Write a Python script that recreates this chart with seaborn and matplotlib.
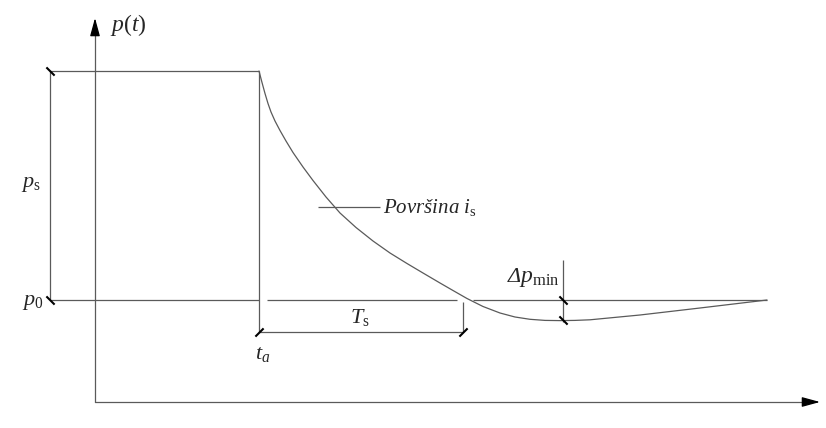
import pandas as pd
import matplotlib.pyplot as plt
import seaborn as sns
from matplotlib.markers import MarkerStyle
from matplotlib.transforms import Affine2D

# curve of the pressure p(t) after arrival time
curve_t = [16.4, 16.7, 17.0, 17.3, 17.6, 18.0, 18.5, 19.1, 19.8, 20.8, 21.8,
           23.1, 24.5, 26.1, 27.8, 29.5, 31.2, 32.8, 34.5, 35.8, 37.2, 38.8,
           40.5, 42.0, 43.5, 45.0, 46.5, 48.0, 49.5, 54.5, 60.5, 67.2]
curve_p = [33.1, 31.95, 30.85, 29.85, 29.0, 28.1, 27.15, 26.1, 24.95, 23.5,
           22.15, 20.5, 18.9, 17.45, 16.1, 14.9, 13.85, 12.9, 11.9, 11.15,
           10.35, 9.55, 8.9, 8.5, 8.27, 8.16, 8.14, 8.16, 8.22, 8.7, 9.4, 10.2]

# characteristic levels / times
p_s = 33.1
p_0 = 10.2
p_min = 8.2
t_a = 16.4
t_Ts = 36.8
t_dp = 46.8
t_end = 67.2
t_dim = -4.5      # left dimension line for p_s
p_dimTs = 7.0     # dimension line for T_s
t_max = 72.5
p_max = 38.4

sns.set_style("white")
plt.rcParams["mathtext.fontset"] = "custom"
plt.rcParams["mathtext.rm"] = "Liberation Serif"
plt.rcParams["mathtext.it"] = "Liberation Serif:italic"
plt.rcParams["font.family"] = ["Liberation Serif", "DejaVu Sans"]

fig = plt.figure(figsize=(8.26, 4.28), dpi=100)
ax = fig.add_axes([0, 0, 1, 1])
ax.set_xlim(-9.5, 73.1)
ax.set_ylim(-2.6, 40.2)
ax.axis("off")

gray = "#5a5a5a"
lw = 0.9

# axes (gray lines, black arrow heads)
ax.plot([0, t_max - 1.0], [0, 0], color=gray, lw=lw)
ax.plot([0, 0], [0, p_max - 1.0], color=gray, lw=lw)
head = dict(arrowstyle="-|>,head_length=1.1,head_width=0.3",
            color="black", lw=lw, shrinkA=0, shrinkB=0)
ax.annotate("", xy=(t_max, 0), xytext=(t_max - 1.4, 0), arrowprops=head)
ax.annotate("", xy=(0, p_max), xytext=(0, p_max - 1.4), arrowprops=head)

# plateau p_s and dimension lines
ax.hlines(p_s, t_dim, t_a, color=gray, lw=lw)
ax.vlines(t_dim, p_0, p_s, color=gray, lw=lw)
ax.vlines(t_a, p_dimTs, p_s, color=gray, lw=lw)
ax.hlines(p_0, t_dim, t_a, color=gray, lw=lw)
ax.hlines(p_0, t_a + 0.8, t_Ts - 0.6, color=gray, lw=lw)
ax.hlines(p_0, t_Ts + 1.0, t_end, color=gray, lw=lw)
ax.hlines(p_dimTs, t_a, t_Ts, color=gray, lw=lw)
ax.vlines(t_Ts, p_dimTs, p_0 - 0.2, color=gray, lw=lw)
ax.vlines(t_dp, p_min - 0.2, 14.2, color=gray, lw=lw)

# pressure curve
df = pd.DataFrame({"t": curve_t, "p": curve_p})
sns.lineplot(data=df, x="t", y="p", sort=False, color=gray, lw=lw, ax=ax)

# leader for the area label
ax.hlines(19.5, 22.3, 28.5, color=gray, lw=lw)

# dimension slashes
back = MarkerStyle("|", transform=Affine2D().rotate_deg(45))
fwd = MarkerStyle("|", transform=Affine2D().rotate_deg(-45))
ax.scatter([t_dim, t_dim, t_dp, t_dp], [p_s, p_0, p_0, p_min],
           marker=back, s=70, color="black", linewidths=1.5, zorder=5)
ax.scatter([t_a, t_Ts], [p_dimTs, p_dimTs],
           marker=fwd, s=70, color="black", linewidths=1.5, zorder=5)

# labels
fs = 15
ax.text(1.5, 37.7, r"$p(t)$", fontsize=17, va="center", ha="left")
ax.text(-6.4, 21.7, r"$p_{\mathrm{s}}$", fontsize=16, va="center", ha="center")
ax.text(-6.2, 10.0, r"$p_{0}$", fontsize=16, va="center", ha="center")
ax.text(16.8, 4.7, r"$t_{a}$", fontsize=16, va="center", ha="center")
ax.text(26.5, 8.4, r"$T_{\mathrm{s}}$", fontsize=16, va="center", ha="center")
ax.text(42.6, 12.0, "Δ", fontsize=16, style="italic", va="baseline", ha="right")
ax.text(42.35, 12.0, r"$p_{\mathrm{min}}$", fontsize=17, va="baseline", ha="left")
ax.text(28.8, 19.4, r"$\mathit{Površina\ i}_{\mathrm{s}}$", fontsize=fs,
        va="center", ha="left")

fig.savefig("out.png", dpi=100)
